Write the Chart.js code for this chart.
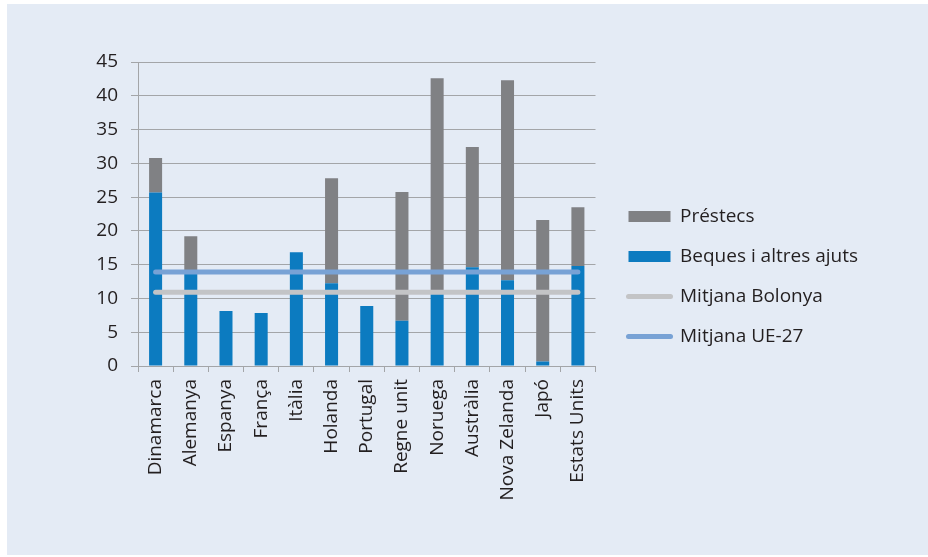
<!DOCTYPE html>
<html>
<head>
<meta charset="utf-8">
<script src="https://cdn.jsdelivr.net/npm/chart.js@4"></script>
<style>
html,body{margin:0;padding:0;background:#fff;}
#panel{position:absolute;left:7px;top:4px;width:921px;height:551px;background:#e4ebf5;}
</style>
</head>
<body>
<div id="panel"><canvas id="chart" width="921" height="551"></canvas></div>
<script>
// ---------- Data ----------

const countries = ["Dinamarca","Alemanya","Espanya","França","Itàlia","Holanda","Portugal","Regne unit","Noruega","Austràlia","Nova Zelanda","Japó","Estats Units"];

// beques (bottom part) and total height (beques + préstecs)
const beques = [25.7, 14.0, 8.15, 7.85, 16.85, 12.25, 8.9, 6.7, 10.8, 14.6, 12.7, 0.65, 14.8];
const totals = [30.8, 19.2, 8.15, 7.85, 16.85, 27.8, 8.9, 25.75, 42.6, 32.4, 42.3, 21.6, 23.5];
const prestecs = totals.map((t, i) => +(t - beques[i]).toFixed(2));

const mitjanaBolonya = 10.9;
const mitjanaUE27 = 13.9;

const yTicks = [0, 5, 10, 15, 20, 25, 30, 35, 40, 45];

// ---------- Style ----------

const GREY_BAR = "#808184";
const BLUE_BAR = "#0c7bc0";
const GREY_LINE = "#c3c4c6";
const BLUE_LINE = "#78a2d5";
const GRID = "#a3a5a8";
const TEXT = "#231f20";

Chart.defaults.font.family = "'Open Sans', sans-serif";
Chart.defaults.font.size = 19;
Chart.defaults.color = TEXT;

// the legend on the right is wider than chart.js allows by default
const LegendBox = Chart.Legend && Chart.Legend._element;
if (LegendBox) {
    const fit0 = LegendBox.prototype.fit;
    LegendBox.prototype.fit = function () {
        this.maxWidth = Math.max(this.maxWidth, 320);
        fit0.call(this);
    };
}

// move the legend a bit right and up
const legendShift = {
    id: "legendShift",
    afterLayout(chart) {
        chart.legend.left += 12;
        chart.legend.right += 12;
        chart.legend.top -= 27;
        chart.legend.bottom -= 27;
    }
};

new Chart(document.getElementById("chart"), {
    type: "bar",
    data: {
        labels: countries,
        datasets: [
            {
                type: "line",
                label: "Mitjana UE-27",
                data: countries.map(() => mitjanaUE27),
                borderColor: BLUE_LINE,
                backgroundColor: BLUE_LINE,
                borderWidth: 5,
                borderCapStyle: "round",
                pointRadius: 0,
                stack: "ue"
            },
            {
                type: "line",
                label: "Mitjana Bolonya",
                data: countries.map(() => mitjanaBolonya),
                borderColor: GREY_LINE,
                backgroundColor: GREY_LINE,
                borderWidth: 5,
                borderCapStyle: "round",
                pointRadius: 0,
                stack: "bol"
            },
            {
                label: "Beques i altres ajuts",
                data: beques,
                backgroundColor: BLUE_BAR,
                stack: "s"
            },
            {
                label: "Préstecs",
                data: prestecs,
                backgroundColor: GREY_BAR,
                stack: "s"
            }
        ]
    },
    options: {
        responsive: false,
        devicePixelRatio: 1,
        animation: false,
        layout: { padding: { left: 60, top: 58, right: 72, bottom: 10 } },
        datasets: {
            bar: { categoryPercentage: 1, barPercentage: 0.37 }
        },
        plugins: {
            tooltip: { enabled: false },
            legend: {
                position: "right",
                labels: {
                    usePointStyle: true,
                    pointStyleWidth: 42,
                    boxHeight: 11,
                    padding: 21,
                    color: TEXT,
                    generateLabels(chart) {
                        return chart.data.datasets.map((ds, i) => ({
                            text: ds.label,
                            datasetIndex: i,
                            fillStyle: ds.type === "line" ? ds.borderColor : ds.backgroundColor,
                            strokeStyle: ds.type === "line" ? ds.borderColor : ds.backgroundColor,
                            lineWidth: ds.type === "line" ? 5 : 0,
                            lineCap: "round",
                            pointStyle: ds.type === "line" ? "line" : "rect",
                            fontColor: TEXT
                        })).reverse();
                    }
                }
            }
        },
        scales: {
            x: {
                stacked: true,
                grid: { offset: true, drawOnChartArea: false, drawTicks: true, tickLength: 6, color: GRID },
                border: { color: GRID, width: 1 },
                ticks: { minRotation: 90, maxRotation: 90, autoSkip: false, padding: 7, color: TEXT },
                afterFit: s => { s.height = 179; }
            },
            y: {
                stacked: true,
                min: 0,
                max: 45,
                afterBuildTicks: s => { s.ticks = yTicks.map(v => ({ value: v })); },
                grid: { color: GRID, tickLength: 7 },
                border: { color: GRID, width: 1 },
                ticks: { padding: 13, color: TEXT },
                afterFit: s => { s.width = 71; }
            }
        }
    },
    plugins: [legendShift]
});
</script>
</body>
</html>
